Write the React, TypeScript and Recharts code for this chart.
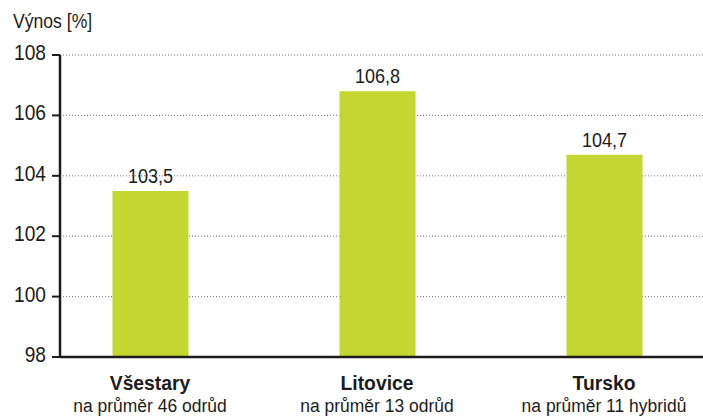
import React from "react";
import { BarChart, Bar, XAxis, YAxis, CartesianGrid, LabelList } from "recharts";

// Yield relative to the variety average, per trial site
const sites = ["Všestary", "Litovice", "Tursko"];
const comparisons = ["na průměr 46 odrůd", "na průměr 13 odrůd", "na průměr 11 hybridů"];
const yields = [103.5, 106.8, 104.7];
const yTicks = [98, 100, 102, 104, 106, 108];

const data = sites.map((site, i) => ({
  site,
  note: comparisons[i],
  value: yields[i],
}));

const FONT = "'Liberation Sans', Arial, sans-serif";
const INK = "#1c1c1c";

// Horizontally condensed text, scaled around its anchor point
const NarrowText = ({
  x,
  y,
  anchor = "middle",
  size,
  weight = "normal",
  squeeze = 0.88,
  children,
}: any) => (
  <text
    transform={`translate(${x},${y}) scale(${squeeze},1)`}
    x={0}
    y={0}
    textAnchor={anchor}
    fontFamily={FONT}
    fontSize={size}
    fontWeight={weight}
    fill={INK}
  >
    {children}
  </text>
);

const SiteTick = (props: any) => {
  const { x, y, payload, index } = props;
  return (
    <g>
      <NarrowText x={x} y={y + 33} size={21} weight="bold" squeeze={0.92}>
        {payload.value}
      </NarrowText>
      <NarrowText x={x} y={y + 55} size={19} squeeze={0.92}>
        {comparisons[index]}
      </NarrowText>
    </g>
  );
};

const ValueTick = (props: any) => {
  const { x, y, payload } = props;
  return (
    <NarrowText x={x} y={y + 5} anchor="end" size={22} squeeze={0.87}>
      {payload.value}
    </NarrowText>
  );
};

const fmt = (v: number) => v.toFixed(1).replace(".", ",");

const BarValue = (props: any) => {
  const { x, y, width, value } = props;
  return (
    <NarrowText x={Number(x) + Number(width) / 2} y={Number(y) - 8} size={21} squeeze={0.86}>
      {fmt(Number(value))}
    </NarrowText>
  );
};

export default function App() {
  return (
    <div style={{ position: "absolute", left: 0, top: 0, width: 703, height: 417, background: "#fff" }}>
      <BarChart
        width={703}
        height={417}
        data={data}
        margin={{ top: 55, right: 0, bottom: 0, left: 0 }}
      >
        <CartesianGrid vertical={false} stroke="#7a7a7a" strokeDasharray="1 2" />
        <XAxis
          dataKey="site"
          height={60}
          tick={<SiteTick />}
          tickLine={false}
          tickSize={0}
          tickMargin={0}
          interval={0}
          padding={{ left: -23.5, right: -14.5 }}
          axisLine={{ stroke: INK, strokeWidth: 2.5 }}
        />
        <YAxis
          width={60}
          domain={[98, 108]}
          ticks={yTicks}
          interval={0}
          tickSize={8}
          tickMargin={6}
          tickLine={{ stroke: INK, strokeWidth: 2 }}
          axisLine={{ stroke: INK, strokeWidth: 2.5 }}
          tick={<ValueTick />}
        />
        <Bar dataKey="value" fill="#c4d631" barSize={76} isAnimationActive={false}>
          <LabelList dataKey="value" content={<BarValue />} />
        </Bar>
      </BarChart>
      <svg width={120} height={36} style={{ position: "absolute", left: 0, top: 0 }}>
        <NarrowText x={13} y={28} anchor="start" size={20} squeeze={0.88}>
          Výnos [%]
        </NarrowText>
      </svg>
    </div>
  );
}
